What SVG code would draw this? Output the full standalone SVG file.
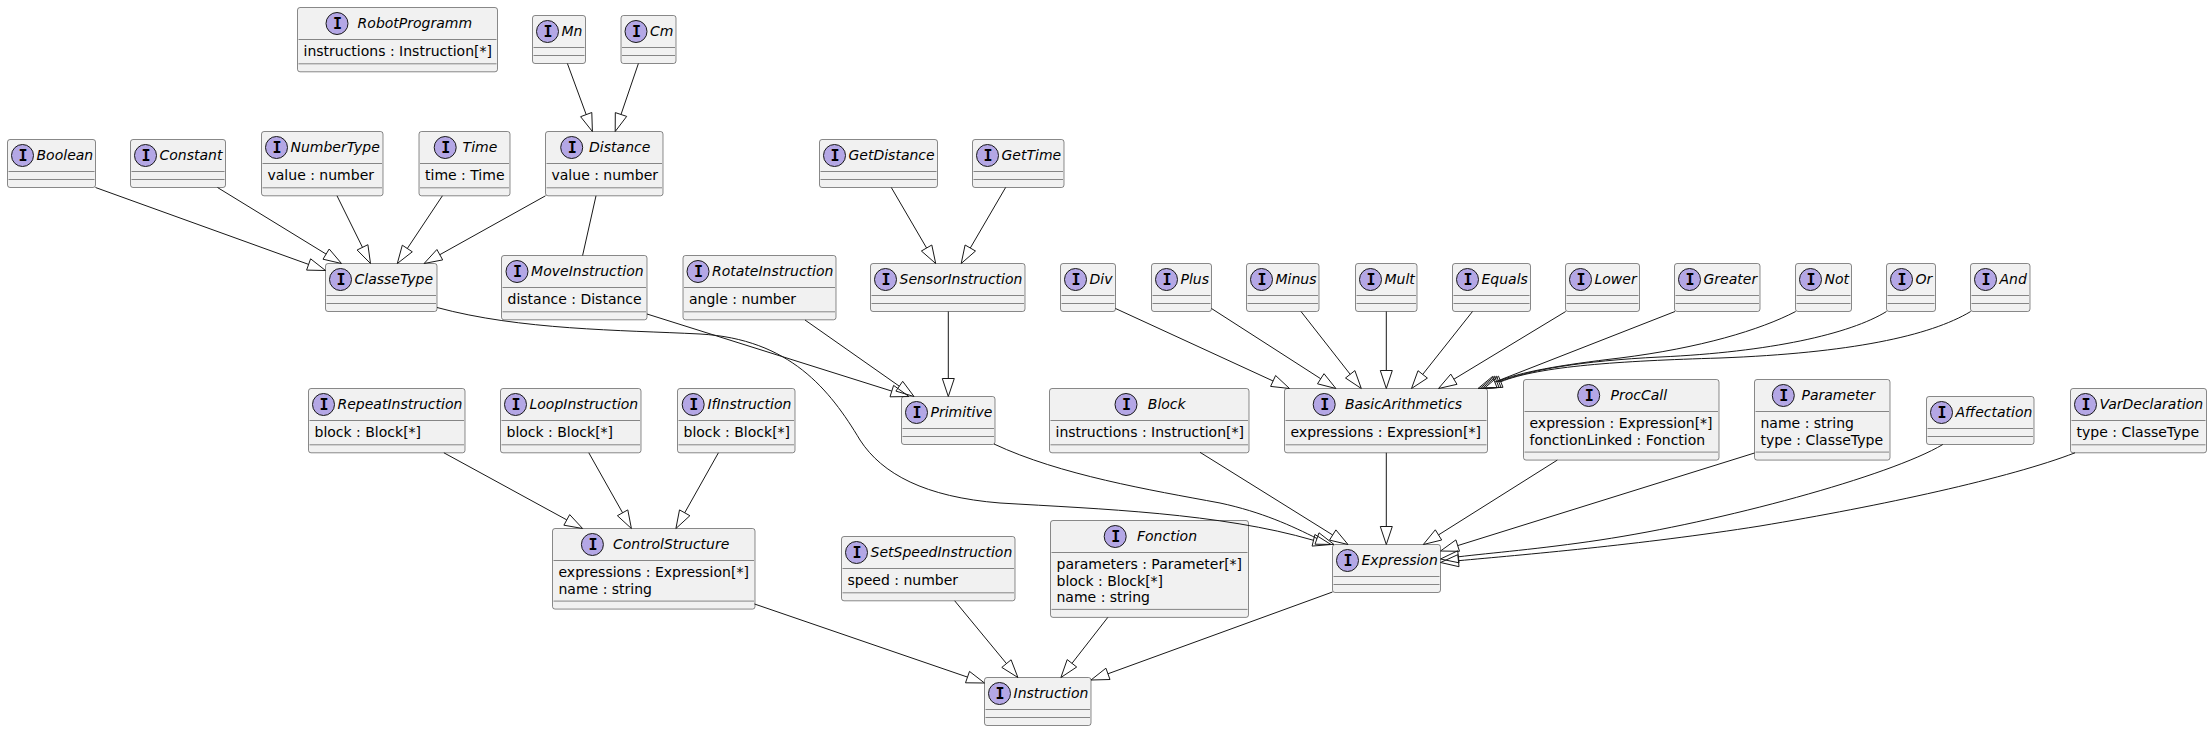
<svg xmlns="http://www.w3.org/2000/svg" width="2212" height="731" viewBox="0 0 2212 731">
<style>
.box{fill:#F1F1F1;stroke:#181818;stroke-width:0.5}
.dv{stroke:#181818;stroke-width:0.5}
.ic{fill:#B4A7E5;stroke:#181818;stroke-width:1}
.ig{font-family:"DejaVu Sans Mono","Liberation Mono",monospace;font-weight:bold;font-size:15px;text-anchor:middle;fill:#000}
.nm{font-family:"DejaVu Sans","Liberation Sans",sans-serif;font-style:italic;font-size:14px;fill:#000}
.at{font-family:"DejaVu Sans","Liberation Sans",sans-serif;font-size:14px;fill:#000}
.ed{fill:none;stroke:#181818;stroke-width:1}
.hd{fill:none;stroke:#181818;stroke-width:1}
</style>
<rect x="0" y="0" width="2212" height="731" fill="#FFFFFF"/>
<g id="RobotProgramm"><rect x="297.5" y="7.5" width="200" height="64.3" rx="2.5" class="box"/><circle cx="337" cy="23.5" r="11" class="ic"/><text x="337.5" y="29" class="ig">I</text><text x="357.6" y="28.35" class="nm">RobotProgramm</text><line x1="298.5" y1="39.5" x2="496.5" y2="39.5" class="dv"/><text x="303.5" y="56.4" class="at">instructions : Instruction[*]</text><line x1="298.5" y1="63.8" x2="496.5" y2="63.8" class="dv"/></g>
<g id="Mn"><rect x="532.5" y="15.5" width="53" height="48" rx="2.5" class="box"/><circle cx="547.5" cy="31.5" r="11" class="ic"/><text x="548" y="37" class="ig">I</text><text x="561.5" y="36.35" class="nm">Mn</text><line x1="533.5" y1="47.5" x2="584.5" y2="47.5" class="dv"/><line x1="533.5" y1="55.5" x2="584.5" y2="55.5" class="dv"/></g>
<g id="Cm"><rect x="621" y="15.5" width="55" height="48" rx="2.5" class="box"/><circle cx="636" cy="31.5" r="11" class="ic"/><text x="636.5" y="37" class="ig">I</text><text x="650" y="36.35" class="nm">Cm</text><line x1="622" y1="47.5" x2="675" y2="47.5" class="dv"/><line x1="622" y1="55.5" x2="675" y2="55.5" class="dv"/></g>
<g id="Boolean"><rect x="7.5" y="139.5" width="88" height="48" rx="2.5" class="box"/><circle cx="22.5" cy="155.5" r="11" class="ic"/><text x="23" y="161" class="ig">I</text><text x="36.5" y="160.35" class="nm">Boolean</text><line x1="8.5" y1="171.5" x2="94.5" y2="171.5" class="dv"/><line x1="8.5" y1="179.5" x2="94.5" y2="179.5" class="dv"/></g>
<g id="Constant"><rect x="130.5" y="139.5" width="95" height="48" rx="2.5" class="box"/><circle cx="145.5" cy="155.5" r="11" class="ic"/><text x="146" y="161" class="ig">I</text><text x="159.5" y="160.35" class="nm">Constant</text><line x1="131.5" y1="171.5" x2="224.5" y2="171.5" class="dv"/><line x1="131.5" y1="179.5" x2="224.5" y2="179.5" class="dv"/></g>
<g id="NumberType"><rect x="261.5" y="131.5" width="121.5" height="64.3" rx="2.5" class="box"/><circle cx="276.5" cy="147.5" r="11" class="ic"/><text x="277" y="153" class="ig">I</text><text x="290.5" y="152.35" class="nm">NumberType</text><line x1="262.5" y1="163.5" x2="382" y2="163.5" class="dv"/><text x="267.5" y="180.4" class="at">value : number</text><line x1="262.5" y1="187.8" x2="382" y2="187.8" class="dv"/></g>
<g id="Time"><rect x="419" y="131.5" width="91" height="64.3" rx="2.5" class="box"/><circle cx="445.2" cy="147.5" r="11" class="ic"/><text x="445.7" y="153" class="ig">I</text><text x="462.6" y="152.35" class="nm">Time</text><line x1="420" y1="163.5" x2="509" y2="163.5" class="dv"/><text x="425" y="180.4" class="at">time : Time</text><line x1="420" y1="187.8" x2="509" y2="187.8" class="dv"/></g>
<g id="Distance"><rect x="545.5" y="131.5" width="117.5" height="64.3" rx="2.5" class="box"/><circle cx="571.7" cy="147.5" r="11" class="ic"/><text x="572.2" y="153" class="ig">I</text><text x="589.1" y="152.35" class="nm">Distance</text><line x1="546.5" y1="163.5" x2="662" y2="163.5" class="dv"/><text x="551.5" y="180.4" class="at">value : number</text><line x1="546.5" y1="187.8" x2="662" y2="187.8" class="dv"/></g>
<g id="GetDistance"><rect x="819.5" y="139.5" width="118" height="48" rx="2.5" class="box"/><circle cx="834.5" cy="155.5" r="11" class="ic"/><text x="835" y="161" class="ig">I</text><text x="848.5" y="160.35" class="nm">GetDistance</text><line x1="820.5" y1="171.5" x2="936.5" y2="171.5" class="dv"/><line x1="820.5" y1="179.5" x2="936.5" y2="179.5" class="dv"/></g>
<g id="GetTime"><rect x="972.5" y="139.5" width="91.5" height="48" rx="2.5" class="box"/><circle cx="987.5" cy="155.5" r="11" class="ic"/><text x="988" y="161" class="ig">I</text><text x="1001.5" y="160.35" class="nm">GetTime</text><line x1="973.5" y1="171.5" x2="1063" y2="171.5" class="dv"/><line x1="973.5" y1="179.5" x2="1063" y2="179.5" class="dv"/></g>
<g id="ClasseType"><rect x="325.5" y="263.5" width="111.5" height="48" rx="2.5" class="box"/><circle cx="340.5" cy="279.5" r="11" class="ic"/><text x="341" y="285" class="ig">I</text><text x="354.5" y="284.35" class="nm">ClasseType</text><line x1="326.5" y1="295.5" x2="436" y2="295.5" class="dv"/><line x1="326.5" y1="303.5" x2="436" y2="303.5" class="dv"/></g>
<g id="MoveInstruction"><rect x="501.5" y="255.5" width="145.5" height="64.3" rx="2.5" class="box"/><circle cx="517" cy="271.5" r="11" class="ic"/><text x="517.5" y="277" class="ig">I</text><text x="531.1" y="276.35" class="nm">MoveInstruction</text><line x1="502.5" y1="287.5" x2="646" y2="287.5" class="dv"/><text x="507.5" y="304.4" class="at">distance : Distance</text><line x1="502.5" y1="311.8" x2="646" y2="311.8" class="dv"/></g>
<g id="RotateInstruction"><rect x="683" y="255.5" width="153" height="64.3" rx="2.5" class="box"/><circle cx="698" cy="271.5" r="11" class="ic"/><text x="698.5" y="277" class="ig">I</text><text x="712" y="276.35" class="nm">RotateInstruction</text><line x1="684" y1="287.5" x2="835" y2="287.5" class="dv"/><text x="689" y="304.4" class="at">angle : number</text><line x1="684" y1="311.8" x2="835" y2="311.8" class="dv"/></g>
<g id="SensorInstruction"><rect x="870.5" y="263.5" width="154.5" height="48" rx="2.5" class="box"/><circle cx="885.5" cy="279.5" r="11" class="ic"/><text x="886" y="285" class="ig">I</text><text x="899.5" y="284.35" class="nm">SensorInstruction</text><line x1="871.5" y1="295.5" x2="1024" y2="295.5" class="dv"/><line x1="871.5" y1="303.5" x2="1024" y2="303.5" class="dv"/></g>
<g id="Div"><rect x="1060.5" y="263.5" width="55" height="48" rx="2.5" class="box"/><circle cx="1075.5" cy="279.5" r="11" class="ic"/><text x="1076" y="285" class="ig">I</text><text x="1089.5" y="284.35" class="nm">Div</text><line x1="1061.5" y1="295.5" x2="1114.5" y2="295.5" class="dv"/><line x1="1061.5" y1="303.5" x2="1114.5" y2="303.5" class="dv"/></g>
<g id="Plus"><rect x="1151.5" y="263.5" width="60" height="48" rx="2.5" class="box"/><circle cx="1166.5" cy="279.5" r="11" class="ic"/><text x="1167" y="285" class="ig">I</text><text x="1180.5" y="284.35" class="nm">Plus</text><line x1="1152.5" y1="295.5" x2="1210.5" y2="295.5" class="dv"/><line x1="1152.5" y1="303.5" x2="1210.5" y2="303.5" class="dv"/></g>
<g id="Minus"><rect x="1246.5" y="263.5" width="72.5" height="48" rx="2.5" class="box"/><circle cx="1261.5" cy="279.5" r="11" class="ic"/><text x="1262" y="285" class="ig">I</text><text x="1275.5" y="284.35" class="nm">Minus</text><line x1="1247.5" y1="295.5" x2="1318" y2="295.5" class="dv"/><line x1="1247.5" y1="303.5" x2="1318" y2="303.5" class="dv"/></g>
<g id="Mult"><rect x="1355.5" y="263.5" width="61.5" height="48" rx="2.5" class="box"/><circle cx="1370.5" cy="279.5" r="11" class="ic"/><text x="1371" y="285" class="ig">I</text><text x="1384.5" y="284.35" class="nm">Mult</text><line x1="1356.5" y1="295.5" x2="1416" y2="295.5" class="dv"/><line x1="1356.5" y1="303.5" x2="1416" y2="303.5" class="dv"/></g>
<g id="Equals"><rect x="1452.5" y="263.5" width="78" height="48" rx="2.5" class="box"/><circle cx="1467.5" cy="279.5" r="11" class="ic"/><text x="1468" y="285" class="ig">I</text><text x="1481.5" y="284.35" class="nm">Equals</text><line x1="1453.5" y1="295.5" x2="1529.5" y2="295.5" class="dv"/><line x1="1453.5" y1="303.5" x2="1529.5" y2="303.5" class="dv"/></g>
<g id="Lower"><rect x="1565.5" y="263.5" width="74" height="48" rx="2.5" class="box"/><circle cx="1580.5" cy="279.5" r="11" class="ic"/><text x="1581" y="285" class="ig">I</text><text x="1594.5" y="284.35" class="nm">Lower</text><line x1="1566.5" y1="295.5" x2="1638.5" y2="295.5" class="dv"/><line x1="1566.5" y1="303.5" x2="1638.5" y2="303.5" class="dv"/></g>
<g id="Greater"><rect x="1674.5" y="263.5" width="85.5" height="48" rx="2.5" class="box"/><circle cx="1689.5" cy="279.5" r="11" class="ic"/><text x="1690" y="285" class="ig">I</text><text x="1703.5" y="284.35" class="nm">Greater</text><line x1="1675.5" y1="295.5" x2="1759" y2="295.5" class="dv"/><line x1="1675.5" y1="303.5" x2="1759" y2="303.5" class="dv"/></g>
<g id="Not"><rect x="1795.5" y="263.5" width="56" height="48" rx="2.5" class="box"/><circle cx="1810.5" cy="279.5" r="11" class="ic"/><text x="1811" y="285" class="ig">I</text><text x="1824.5" y="284.35" class="nm">Not</text><line x1="1796.5" y1="295.5" x2="1850.5" y2="295.5" class="dv"/><line x1="1796.5" y1="303.5" x2="1850.5" y2="303.5" class="dv"/></g>
<g id="Or"><rect x="1886.5" y="263.5" width="49" height="48" rx="2.5" class="box"/><circle cx="1901.5" cy="279.5" r="11" class="ic"/><text x="1902" y="285" class="ig">I</text><text x="1915.5" y="284.35" class="nm">Or</text><line x1="1887.5" y1="295.5" x2="1934.5" y2="295.5" class="dv"/><line x1="1887.5" y1="303.5" x2="1934.5" y2="303.5" class="dv"/></g>
<g id="And"><rect x="1970.5" y="263.5" width="59.5" height="48" rx="2.5" class="box"/><circle cx="1985.5" cy="279.5" r="11" class="ic"/><text x="1986" y="285" class="ig">I</text><text x="1999.5" y="284.35" class="nm">And</text><line x1="1971.5" y1="295.5" x2="2029" y2="295.5" class="dv"/><line x1="1971.5" y1="303.5" x2="2029" y2="303.5" class="dv"/></g>
<g id="RepeatInstruction"><rect x="308.5" y="388.5" width="156.5" height="64.3" rx="2.5" class="box"/><circle cx="323.5" cy="404.5" r="11" class="ic"/><text x="324" y="410" class="ig">I</text><text x="337.5" y="409.35" class="nm">RepeatInstruction</text><line x1="309.5" y1="420.5" x2="464" y2="420.5" class="dv"/><text x="314.5" y="437.4" class="at">block : Block[*]</text><line x1="309.5" y1="444.8" x2="464" y2="444.8" class="dv"/></g>
<g id="LoopInstruction"><rect x="500.5" y="388.5" width="140.5" height="64.3" rx="2.5" class="box"/><circle cx="515.5" cy="404.5" r="11" class="ic"/><text x="516" y="410" class="ig">I</text><text x="529.5" y="409.35" class="nm">LoopInstruction</text><line x1="501.5" y1="420.5" x2="640" y2="420.5" class="dv"/><text x="506.5" y="437.4" class="at">block : Block[*]</text><line x1="501.5" y1="444.8" x2="640" y2="444.8" class="dv"/></g>
<g id="IfInstruction"><rect x="677.5" y="388.5" width="117.5" height="64.3" rx="2.5" class="box"/><circle cx="693.2" cy="404.5" r="11" class="ic"/><text x="693.7" y="410" class="ig">I</text><text x="707.4" y="409.35" class="nm">IfInstruction</text><line x1="678.5" y1="420.5" x2="794" y2="420.5" class="dv"/><text x="683.5" y="437.4" class="at">block : Block[*]</text><line x1="678.5" y1="444.8" x2="794" y2="444.8" class="dv"/></g>
<g id="Primitive"><rect x="901.5" y="396.5" width="93.5" height="48" rx="2.5" class="box"/><circle cx="916.5" cy="412.5" r="11" class="ic"/><text x="917" y="418" class="ig">I</text><text x="930.5" y="417.35" class="nm">Primitive</text><line x1="902.5" y1="428.5" x2="994" y2="428.5" class="dv"/><line x1="902.5" y1="436.5" x2="994" y2="436.5" class="dv"/></g>
<g id="Block"><rect x="1049.5" y="388.5" width="199.5" height="64.3" rx="2.5" class="box"/><circle cx="1126" cy="404.5" r="11" class="ic"/><text x="1126.5" y="410" class="ig">I</text><text x="1147.8" y="409.35" class="nm">Block</text><line x1="1050.5" y1="420.5" x2="1248" y2="420.5" class="dv"/><text x="1055.5" y="437.4" class="at">instructions : Instruction[*]</text><line x1="1050.5" y1="444.8" x2="1248" y2="444.8" class="dv"/></g>
<g id="BasicArithmetics"><rect x="1284.5" y="388.5" width="203" height="64.3" rx="2.5" class="box"/><circle cx="1324.2" cy="404.5" r="11" class="ic"/><text x="1324.7" y="410" class="ig">I</text><text x="1344.9" y="409.35" class="nm">BasicArithmetics</text><line x1="1285.5" y1="420.5" x2="1486.5" y2="420.5" class="dv"/><text x="1290.5" y="437.4" class="at">expressions : Expression[*]</text><line x1="1285.5" y1="444.8" x2="1486.5" y2="444.8" class="dv"/></g>
<g id="ProcCall"><rect x="1523.5" y="379.5" width="195.5" height="80.6" rx="2.5" class="box"/><circle cx="1588.7" cy="395.5" r="11" class="ic"/><text x="1589.2" y="401" class="ig">I</text><text x="1610.5" y="400.35" class="nm">ProcCall</text><line x1="1524.5" y1="411.5" x2="1718" y2="411.5" class="dv"/><text x="1529.5" y="428.4" class="at">expression : Expression[*]</text><text x="1529.5" y="444.7" class="at">fonctionLinked : Fonction</text><line x1="1524.5" y1="452.1" x2="1718" y2="452.1" class="dv"/></g>
<g id="Parameter"><rect x="1754.5" y="379.5" width="135.5" height="80.6" rx="2.5" class="box"/><circle cx="1783.3" cy="395.5" r="11" class="ic"/><text x="1783.8" y="401" class="ig">I</text><text x="1801.5" y="400.35" class="nm">Parameter</text><line x1="1755.5" y1="411.5" x2="1889" y2="411.5" class="dv"/><text x="1760.5" y="428.4" class="at">name : string</text><text x="1760.5" y="444.7" class="at">type : ClasseType</text><line x1="1755.5" y1="452.1" x2="1889" y2="452.1" class="dv"/></g>
<g id="Affectation"><rect x="1926.5" y="396.5" width="107.5" height="48" rx="2.5" class="box"/><circle cx="1941.5" cy="412.5" r="11" class="ic"/><text x="1942" y="418" class="ig">I</text><text x="1955.5" y="417.35" class="nm">Affectation</text><line x1="1927.5" y1="428.5" x2="2033" y2="428.5" class="dv"/><line x1="1927.5" y1="436.5" x2="2033" y2="436.5" class="dv"/></g>
<g id="VarDeclaration"><rect x="2070.5" y="388.5" width="136" height="64.3" rx="2.5" class="box"/><circle cx="2085.5" cy="404.5" r="11" class="ic"/><text x="2086" y="410" class="ig">I</text><text x="2099.5" y="409.35" class="nm">VarDeclaration</text><line x1="2071.5" y1="420.5" x2="2205.5" y2="420.5" class="dv"/><text x="2076.5" y="437.4" class="at">type : ClasseType</text><line x1="2071.5" y1="444.8" x2="2205.5" y2="444.8" class="dv"/></g>
<g id="ControlStructure"><rect x="552.5" y="528.5" width="202.5" height="80.6" rx="2.5" class="box"/><circle cx="592.4" cy="544.5" r="11" class="ic"/><text x="592.9" y="550" class="ig">I</text><text x="613" y="549.35" class="nm">ControlStructure</text><line x1="553.5" y1="560.5" x2="754" y2="560.5" class="dv"/><text x="558.5" y="577.4" class="at">expressions : Expression[*]</text><text x="558.5" y="593.7" class="at">name : string</text><line x1="553.5" y1="601.1" x2="754" y2="601.1" class="dv"/></g>
<g id="SetSpeedInstruction"><rect x="841.5" y="536.5" width="173.5" height="64.3" rx="2.5" class="box"/><circle cx="856.5" cy="552.5" r="11" class="ic"/><text x="857" y="558" class="ig">I</text><text x="870.5" y="557.35" class="nm">SetSpeedInstruction</text><line x1="842.5" y1="568.5" x2="1014" y2="568.5" class="dv"/><text x="847.5" y="585.4" class="at">speed : number</text><line x1="842.5" y1="592.8" x2="1014" y2="592.8" class="dv"/></g>
<g id="Fonction"><rect x="1050.5" y="520.5" width="198" height="96.9" rx="2.5" class="box"/><circle cx="1115.2" cy="536.5" r="11" class="ic"/><text x="1115.7" y="542" class="ig">I</text><text x="1137" y="541.35" class="nm">Fonction</text><line x1="1051.5" y1="552.5" x2="1247.5" y2="552.5" class="dv"/><text x="1056.5" y="569.4" class="at">parameters : Parameter[*]</text><text x="1056.5" y="585.7" class="at">block : Block[*]</text><text x="1056.5" y="602" class="at">name : string</text><line x1="1051.5" y1="609.4" x2="1247.5" y2="609.4" class="dv"/></g>
<g id="Expression"><rect x="1332.5" y="544.5" width="108" height="48" rx="2.5" class="box"/><circle cx="1347.5" cy="560.5" r="11" class="ic"/><text x="1348" y="566" class="ig">I</text><text x="1361.5" y="565.35" class="nm">Expression</text><line x1="1333.5" y1="576.5" x2="1439.5" y2="576.5" class="dv"/><line x1="1333.5" y1="584.5" x2="1439.5" y2="584.5" class="dv"/></g>
<g id="Instruction"><rect x="984.5" y="677.5" width="106.5" height="48" rx="2.5" class="box"/><circle cx="999.5" cy="693.5" r="11" class="ic"/><text x="1000" y="699" class="ig">I</text><text x="1013.5" y="698.35" class="nm">Instruction</text><line x1="985.5" y1="709.5" x2="1090" y2="709.5" class="dv"/><line x1="985.5" y1="717.5" x2="1090" y2="717.5" class="dv"/></g>
<g id="connectors">
<path class="ed" d="M567.4,63.5 L586.2,114.6"/><polygon class="hd" points="592.4,131.5 580.6,116.7 591.8,112.5"/>
<path class="ed" d="M638.4,63.5 L621,114.5"/><polygon class="hd" points="615.2,131.5 615.3,112.6 626.7,116.4"/>
<path class="ed" d="M95.5,187.5 L308.6,264.4"/><polygon class="hd" points="325.5,270.5 306.6,270.1 310.6,258.8"/>
<path class="ed" d="M217.5,187.5 L326.1,254.1"/><polygon class="hd" points="341.5,263.5 323,259.2 329.2,249"/>
<path class="ed" d="M337,195.8 L362.5,247.4"/><polygon class="hd" points="370.5,263.5 357.1,250 367.9,244.7"/>
<path class="ed" d="M442.4,195.8 L407.3,248.5"/><polygon class="hd" points="397.3,263.5 402.3,245.2 412.3,251.8"/>
<path class="ed" d="M545.5,195.8 L439.8,254.7"/><polygon class="hd" points="424.1,263.5 436.9,249.5 442.7,259.9"/>
<path class="ed" d="M596,195.8 L582.6,255.5"/>
<path class="ed" d="M891.3,187.5 L926.6,248"/><polygon class="hd" points="935.7,263.5 921.4,251 931.8,245"/>
<path class="ed" d="M1005.6,187.5 L970.3,248"/><polygon class="hd" points="961.2,263.5 965.1,245 975.5,251"/>
<path class="ed" d="M647,314 L891.8,391.1"/><polygon class="hd" points="909,396.5 890,396.8 893.6,385.4"/>
<path class="ed" d="M805,320 L899.3,386.2"/><polygon class="hd" points="914,396.5 895.9,391.1 902.7,381.3"/>
<path class="ed" d="M948.3,311.5 L948.3,378.5"/><polygon class="hd" points="948.3,396.5 942.3,378.5 954.3,378.5"/>
<path class="ed" d="M437,307.5 C520,330 620,330 700,334 C790,339 830,390 860,440 C882,474 925,497 1000,503 C1100,509 1220,513 1313.5,540.3"/><polygon class="hd" points="1331,544.5 1312.1,546.1 1314.9,534.5"/>
<path class="ed" d="M994,444 C1060,475 1150,490 1220,503 C1262,512 1292,526 1317,538.5"/><polygon class="hd" points="1334,544.5 1315,544.2 1319,532.8"/>
<path class="ed" d="M1200,452.3 L1332.7,535"/><polygon class="hd" points="1348,544.5 1329.5,540.1 1335.9,529.9"/>
<path class="ed" d="M1386.3,452.8 L1386.3,526.5"/><polygon class="hd" points="1386.3,544.5 1380.3,526.5 1392.3,526.5"/>
<path class="ed" d="M1557.3,460.1 L1438.5,534.9"/><polygon class="hd" points="1423.3,544.5 1435.3,529.8 1441.7,540"/>
<path class="ed" d="M1754.5,453 L1457.7,545.6"/><polygon class="hd" points="1440.5,551 1455.9,539.9 1459.5,551.3"/>
<path class="ed" d="M1942.8,444.5 C1890,476 1720,522 1600,540 C1540,549 1490,553 1458.4,556.8"/><polygon class="hd" points="1440.5,559 1457.7,550.8 1459.1,562.8"/>
<path class="ed" d="M2075,452.8 C2010,478 1880,506 1760,526 C1640,545 1520,555 1458.4,560.7"/><polygon class="hd" points="1440.5,562.5 1457.8,554.7 1459,566.7"/>
<path class="ed" d="M1115.5,308.5 L1273.1,381"/><polygon class="hd" points="1289.5,388.5 1270.6,386.4 1275.6,375.5"/>
<path class="ed" d="M1211.5,308.5 L1320.8,378.8"/><polygon class="hd" points="1335.9,388.5 1317.5,383.8 1324,373.7"/>
<path class="ed" d="M1301,311.5 L1350.2,374.3"/><polygon class="hd" points="1361.3,388.5 1345.5,378 1354.9,370.6"/>
<path class="ed" d="M1386.3,311.5 L1386.3,370.5"/><polygon class="hd" points="1386.3,388.5 1380.3,370.5 1392.3,370.5"/>
<path class="ed" d="M1472.5,311.5 L1422.7,374.4"/><polygon class="hd" points="1411.5,388.5 1418,370.7 1427.4,378.1"/>
<path class="ed" d="M1565.7,311.5 L1453.9,379.2"/><polygon class="hd" points="1438.5,388.5 1450.8,374.1 1457,384.3"/>
<path class="ed" d="M1675,311.5 L1494.8,382"/><polygon class="hd" points="1478,388.5 1492.6,376.4 1497,387.6"/>
<path class="ed" d="M1795.7,311.5 C1760,330 1700,348 1620,358 C1560,365 1520,372 1496.7,381.75"/><polygon class="hd" points="1480,388.5 1494.5,376.2 1499,387.3"/>
<path class="ed" d="M1886.5,311.5 C1850,334 1770,352 1660,357 C1580,361 1530,370 1498.7,381.75"/><polygon class="hd" points="1482,388.5 1496.5,376.2 1501,387.3"/>
<path class="ed" d="M1970.7,311.5 C1930,336 1850,353 1720,358 C1620,361 1540,366 1500.7,381.75"/><polygon class="hd" points="1484,388.5 1498.5,376.2 1503,387.3"/>
<path class="ed" d="M443.9,452.8 L566.8,519.9"/><polygon class="hd" points="582.6,528.5 563.9,525.2 569.7,514.6"/>
<path class="ed" d="M588.8,452.8 L622.6,512.8"/><polygon class="hd" points="631.4,528.5 617.4,515.7 627.8,509.9"/>
<path class="ed" d="M718.4,452.8 L684.7,512.8"/><polygon class="hd" points="675.9,528.5 679.5,509.9 689.9,515.7"/>
<path class="ed" d="M754.5,604 L967.5,677.1"/><polygon class="hd" points="984.5,683 965.5,682.8 969.5,671.4"/>
<path class="ed" d="M954.7,600.8 L1006.5,663.6"/><polygon class="hd" points="1017.9,677.5 1001.8,667.4 1011.1,659.8"/>
<path class="ed" d="M1107.8,617.4 L1072,663.3"/><polygon class="hd" points="1060.9,677.5 1067.2,659.6 1076.7,667"/>
<path class="ed" d="M1332.5,592 L1107.9,673.8"/><polygon class="hd" points="1091,680 1105.9,668.2 1110,679.5"/>
</g>
</svg>
